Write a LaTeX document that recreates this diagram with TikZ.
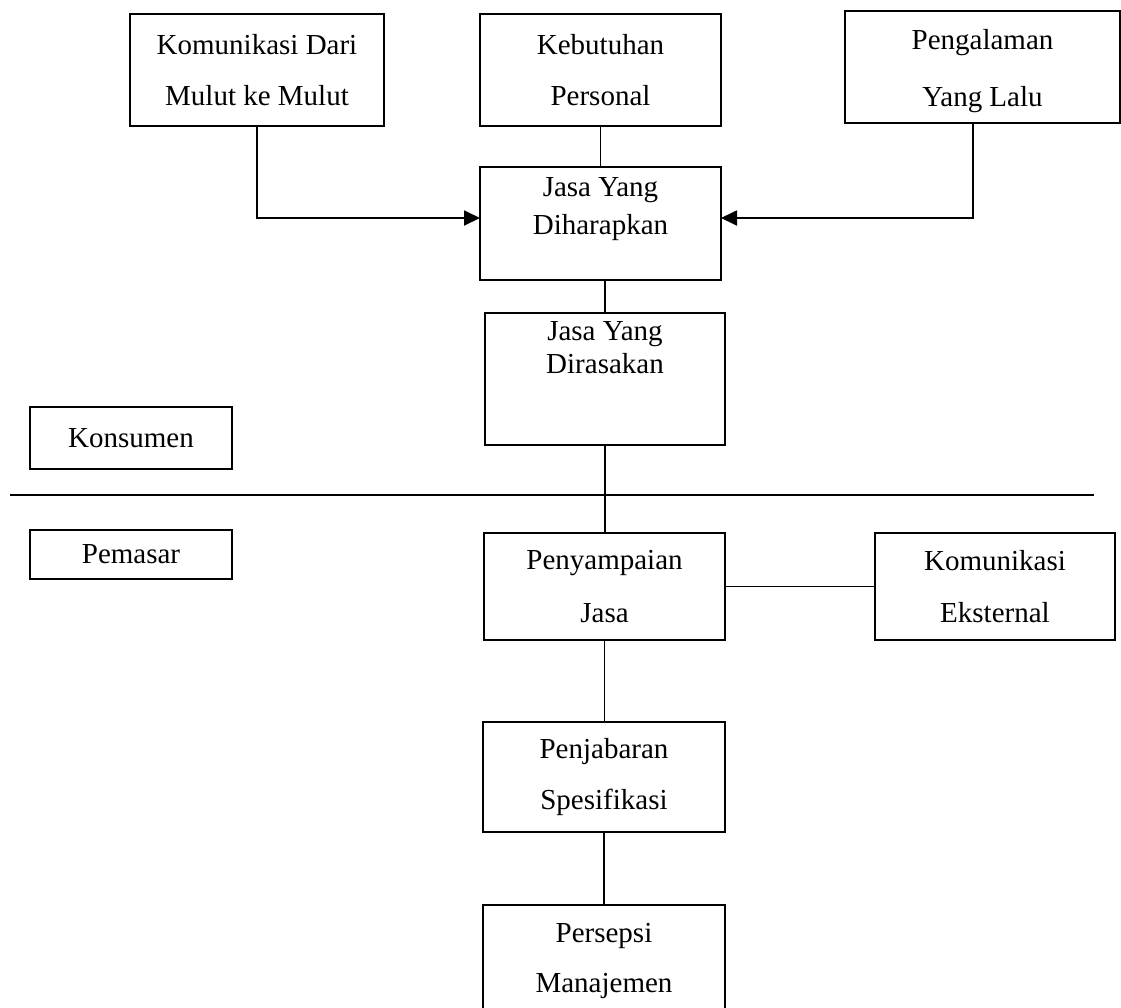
\documentclass[tikz,border=0pt]{standalone}
\usepackage{fontspec}
\setmainfont{Liberation Serif}
\usetikzlibrary{arrows.meta, calc}

\begin{document}
\begin{tikzpicture}[x=0.5pt, y=-0.5pt, line width=0.9pt,
    box/.style={draw, align=center, inner sep=0pt, outer sep=0pt,
      font=\fontsize{14.5pt}{17.4pt}\selectfont},
    arr/.style={-{Triangle[length=8pt, width=7.5pt]}}]
    \useasboundingbox (0,0) rectangle (1121,1008);

    % konsumen side
    \node[box, minimum width=127pt, minimum height=56pt] (kom) at (257,70) {Komunikasi Dari\\[8pt]Mulut ke Mulut};
    \node[box, minimum width=120.5pt, minimum height=56pt] (keb) at (600.5,70) {Kebutuhan\\[8pt]Personal};
    \node[box, minimum width=137.5pt, minimum height=56pt, text height=42.5pt] (peng) at (982.5,67) {Pengalaman\\[11pt]Yang Lalu};
    \node[box, minimum width=120.5pt, minimum height=56.5pt, text depth=17.2pt] (dih) at (600.5,223.5) {Jasa Yang\\[1.5pt]Diharapkan};
    \node[box, minimum width=120pt, minimum height=66pt, text depth=31.5pt] (dir) at (605,379) {Jasa Yang\\[-1pt]Dirasakan};
    \node[box, minimum width=101pt, minimum height=31pt] (kons) at (131,438) {Konsumen};

    \coordinate (sepL) at (10,495);
    \coordinate (sepR) at (1094,495);
    \draw (sepL) -- (sepR);

    % pemasar side
    \node[box, minimum width=101pt, minimum height=24.5pt] (pms) at (131,554.5) {Pemasar};
    \node[box, minimum width=120.5pt, minimum height=53.5pt] (pny) at (604.5,586.5) {Penyampaian\\[9pt]Jasa};
    \node[box, minimum width=120pt, minimum height=53.5pt] (eks) at (995,586.5) {Komunikasi\\[9pt]Eksternal};
    \node[box, minimum width=121pt, minimum height=55pt] (pjb) at (604,777) {Penjabaran\\[8pt]Spesifikasi};
    \node[box, minimum width=121pt, minimum height=56pt] (psp) at (604,961) {Persepsi\\[7.5pt]Manajemen};

    \draw[arr] (kom.south) |- ($(dih.west)+(0,-5.5)$);
    \draw[arr] ($(peng.south)+(-9.5,0)$) |- ($(dih.east)+(0,-5.5)$);
    \draw (keb.south) -- (keb.south |- dih.north);
    \draw (dih.south -| dir.north) -- (dir.north);
    \draw (dir.south) -- (dir.south |- pny.north);
    \draw (pny.east) -- (eks.west);
    \draw (pny.south) -- (pny.south |- pjb.north);
    \draw (pjb.south) -- (pjb.south |- psp.north);
\end{tikzpicture}
\end{document}
